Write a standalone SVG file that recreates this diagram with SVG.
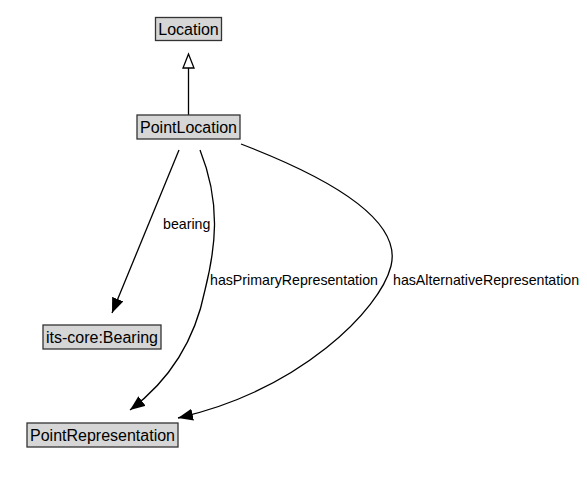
<svg xmlns="http://www.w3.org/2000/svg" width="587" height="486" viewBox="0 0 587 486">
<style>
.box{fill:#d6d6d6;stroke:#333;stroke-width:1.3}
.nt{font-family:"Liberation Sans",Arial,sans-serif;font-size:16px;fill:#000;text-anchor:middle}
.lbl{font-family:"Liberation Sans",Arial,sans-serif;font-size:14.2px;fill:#000}
.edge{fill:none;stroke:#000;stroke-width:1.3}
</style>
<defs>
<marker id="arrow" markerUnits="userSpaceOnUse" markerWidth="17" markerHeight="13" refX="15" refY="6" orient="auto">
<path d="M0,0 L15,6 L0,12 Z" fill="#000"/>
</marker>
</defs>
<rect width="587" height="486" fill="#fff"/>
<g id="connectors">
<path class="edge" d="M188.5,115 L188.5,68"/>
<polygon points="188.5,54 183,68 194,68" fill="#fff" stroke="#000" stroke-width="1.3"/>
<path class="edge" d="M179,150 L112,313" marker-end="url(#arrow)"/>
<path class="edge" d="M200,150 C222,205 215,250 205,290 C195,340 170,380 130,410" marker-end="url(#arrow)"/>
<path class="edge" d="M241,144 C335,180 402,222 391,266 C380,310 300,390 178,418" marker-end="url(#arrow)"/>
<text class="lbl" x="163" y="229">bearing</text>
<text class="lbl" x="210" y="285">hasPrimaryRepresentation</text>
<text class="lbl" x="393" y="285">hasAlternativeRepresentation</text>
</g>
<g id="Location">
<rect class="box" x="155.5" y="17.5" width="66" height="23"/>
<text class="nt" x="188.5" y="34.5">Location</text>
</g>
<g id="PointLocation">
<rect class="box" x="137" y="115" width="103" height="24"/>
<text class="nt" x="188.5" y="132.5">PointLocation</text>
</g>
<g id="Bearing">
<rect class="box" x="43" y="325" width="118" height="24"/>
<text class="nt" x="102" y="342.5">its-core:Bearing</text>
</g>
<g id="PointRepresentation">
<rect class="box" x="27" y="423" width="151" height="24"/>
<text class="nt" x="102.5" y="440.5">PointRepresentation</text>
</g>
</svg>
